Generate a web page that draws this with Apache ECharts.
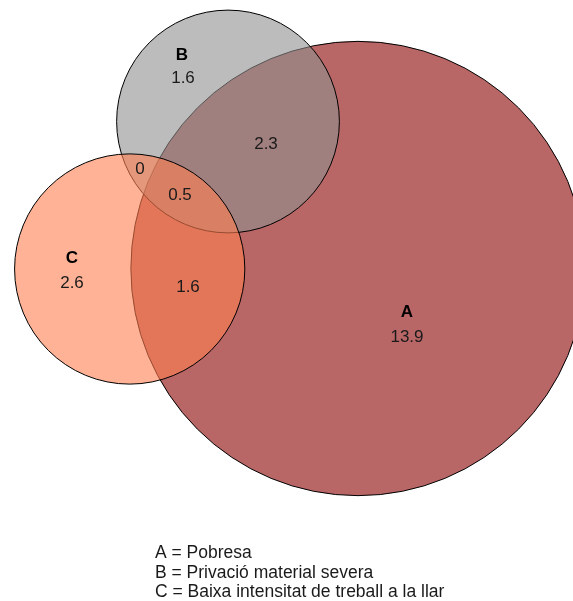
<!DOCTYPE html>
<html><head><meta charset="utf-8">
<script src="https://cdn.jsdelivr.net/npm/echarts@6/dist/echarts.min.js"></script>
<style>html,body{margin:0;padding:0;background:#fff}#c{width:573px;height:601px}</style>
</head><body><div id="c"></div>
<script>
// ---- data ----
const setNames = ['A', 'B', 'C'];
const setDescriptions = ['Pobresa', 'Privació material severa', 'Baixa intensitat de treball a la llar'];
// regions: which sets each region belongs to, and its value
const regionSets = [['A'], ['B'], ['C'], ['A','B'], ['A','C'], ['B','C'], ['A','B','C']];
const regionValues = [13.9, 1.6, 2.6, 2.3, 1.6, 0, 0.5];

// ---- layout (chart units) ----
const RSCALE = 53.1; // units per sqrt(%)
const setCenters = { A: [358, 268.5], B: [228, 121.5], C: [129.7, 269] };
const setColors = { A: 'rgba(139,0,0,0.6)', B: 'rgba(143,143,143,0.6)', C: 'rgba(255,127,80,0.6)' };
const regionLabelPos = [[407, 337], [183, 78], [72, 283], [266, 144], [188, 287], [140, 169], [180, 195]];
const setLabelPos = { A: [407, 312], B: [182, 55], C: [72, 258] };

// set totals from regions
const setTotals = setNames.map(s => regionValues.reduce((acc, v, i) => acc + (regionSets[i].includes(s) ? v : 0), 0));

const circleData = setNames.map((s, i) => [setCenters[s][0], setCenters[s][1], RSCALE * Math.sqrt(setTotals[i]), i]);
const valueLabelData = regionValues.map((v, i) => [regionLabelPos[i][0], regionLabelPos[i][1], v]);
const nameLabelData = setNames.map(s => [setLabelPos[s][0], setLabelPos[s][1], s]);

const chart = echarts.init(document.getElementById('c'), null, { renderer: 'canvas' });
chart.setOption({
  animation: false,
  backgroundColor: '#fff',
  grid: { left: 0, top: 0, width: 573, height: 601 },
  xAxis: { type: 'value', min: 0, max: 573, show: false },
  yAxis: { type: 'value', min: 0, max: 601, inverse: true, show: false },
  graphic: [{
    type: 'text', left: 155, top: 544,
    style: {
      text: setNames.map((s, i) => s + ' = ' + setDescriptions[i]).join('\n'),
      font: '17.5px "Liberation Sans", Arial, sans-serif',
      lineHeight: 19.2, fill: '#1a1a1a'
    }
  }],
  series: [
    {
      type: 'custom', clip: false,
      data: circleData,
      renderItem: function (params, api) {
        const c = api.coord([api.value(0), api.value(1)]);
        const r = api.size([api.value(2), 0])[0];
        const s = setNames[api.value(3)];
        return { type: 'circle', shape: { cx: c[0], cy: c[1], r: r },
          style: { fill: setColors[s], stroke: '#000', lineWidth: 1 } };
      }
    },
    {
      type: 'custom', clip: false,
      data: valueLabelData,
      renderItem: function (params, api) {
        const c = api.coord([api.value(0), api.value(1)]);
        return { type: 'text', x: c[0], y: c[1],
          style: { text: String(api.value(2)), align: 'center', verticalAlign: 'middle',
            font: '17px "Liberation Sans", Arial, sans-serif', fill: '#1a1a1a' } };
      }
    },
    {
      type: 'custom', clip: false,
      data: nameLabelData,
      renderItem: function (params, api) {
        const c = api.coord([api.value(0), api.value(1)]);
        return { type: 'text', x: c[0], y: c[1],
          style: { text: nameLabelData[params.dataIndex][2], align: 'center', verticalAlign: 'middle',
            font: 'bold 17px "Liberation Sans", Arial, sans-serif', fill: '#000' } };
      }
    }
  ]
});
</script></body></html>
